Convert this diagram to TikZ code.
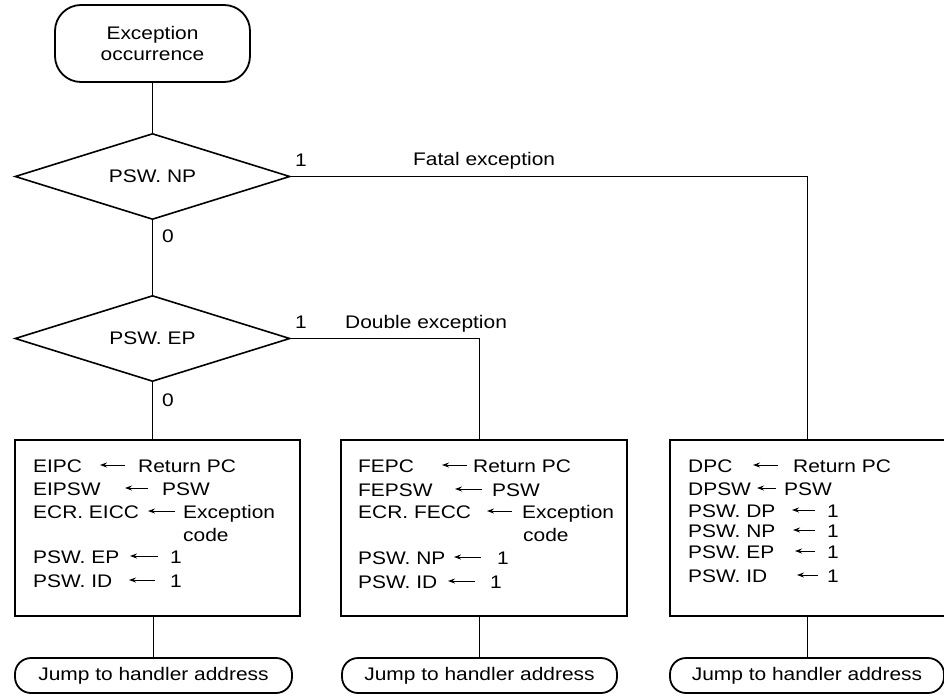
\documentclass[tikz,border=0pt]{standalone}
\usepackage{fontspec}
\setmainfont[FakeStretch=1.15]{Liberation Sans}
\usetikzlibrary{shapes.geometric,arrows.meta}
\begin{document}
\begin{tikzpicture}[x=1pt,y=-1pt,
  txt/.style={font=\fontsize{18.2}{21}\selectfont, inner sep=0pt},
  lbl/.style={txt, anchor=base west},
  bigbox/.style={draw, line width=2.6pt, inner sep=0pt},
  term/.style={txt, draw, line width=1.8pt, rounded corners=16pt, minimum height=35pt},
  dia/.style={txt, draw, shape=diamond, line width=1.6pt, aspect=3.2, minimum width=275pt, minimum height=86pt},
  conn/.style={line width=1pt},
  asg/.style={line width=1pt, -{Stealth[length=7pt,width=5pt]}}]
\useasboundingbox (0,0) rectangle (944,696);

% start
\node[txt, draw, line width=1.8pt, rounded corners=26pt, minimum width=195pt, minimum height=77pt, align=center] (start) at (152.5,43.5) {Exception\\occurrence};

% decisions
\node[dia] (d1) at (152.5,176.5) {PSW. NP};
\node[dia] (d2) at (152.5,338.5) {PSW. EP};

% boxes
\node[bigbox, minimum width=285pt, minimum height=176pt] (b1) at (157.5,528) {};
\node[bigbox, minimum width=286pt, minimum height=176pt] (b2) at (484,528) {};
\node[bigbox, minimum width=284pt, minimum height=176pt] (b3) at (812,528) {};

% terminals
\node[term, minimum width=277pt] (t1) at (153.5,675.5) {Jump to handler address};
\node[term, minimum width=275pt] (t2) at (479.5,675.5) {Jump to handler address};
\node[term, minimum width=274pt] (t3) at (807,675.5) {Jump to handler address};

% connectors
\draw[conn] (start.south) -- (d1.north);
\draw[conn] (d1.south) -- (d2.north);
\draw[conn] (d2.south) -- (d2.south |- b1.north);
\draw[conn] (d1.east) -| (t3.north |- b3.north);
\draw[conn] (d2.east) -| (t2.north |- b2.north);
\draw[conn] (t1.north |- b1.south) -- (t1.north);
\draw[conn] (t2.north |- b2.south) -- (t2.north);
\draw[conn] (t3.north |- b3.south) -- (t3.north);

% branch labels
\node[lbl] (one1) at (295,166) {1};
\node[lbl] (fatal) at (413,165) {Fatal exception};
\node[lbl] (zero1) at (162,242) {0};
\node[lbl] (one2) at (295,328) {1};
\node[lbl] (double) at (345,328) {Double exception};
\node[lbl] (zero2) at (162,406) {0};

% box 1
\node[lbl] (a11) at (33,472) {EIPC};
\node[lbl] (a12) at (138,472) {Return PC};
\draw[asg] (125,465) -- (100,465);
\node[lbl] (a21) at (33,495) {EIPSW};
\node[lbl] (a22) at (162,495) {PSW};
\draw[asg] (148,488) -- (125,488);
\node[lbl] (a31) at (33,518) {ECR. EICC};
\node[lbl] (a32) at (183,518) {Exception};
\draw[asg] (175,511) -- (148,511);
\node[lbl] (a33) at (183,541) {code};
\node[lbl] (a51) at (33,563) {PSW. EP};
\node[lbl] (a52) at (170,563) {1};
\draw[asg] (158,556) -- (130,556);
\node[lbl] (a61) at (33,587) {PSW. ID};
\node[lbl] (a62) at (170,587) {1};
\draw[asg] (155,580) -- (129,580);

% box 2
\node[lbl] (b11) at (358,472) {FEPC};
\node[lbl] (b12) at (473,472) {Return PC};
\draw[asg] (467,465) -- (442,465);
\node[lbl] (b21) at (358,496) {FEPSW};
\node[lbl] (b22) at (492,496) {PSW};
\draw[asg] (482,489) -- (455,489);
\node[lbl] (b31) at (358,518) {ECR. FECC};
\node[lbl] (b32) at (522,518) {Exception};
\draw[asg] (512,511) -- (487,511);
\node[lbl] (b33) at (523,541) {code};
\node[lbl] (b51) at (358,564) {PSW. NP};
\node[lbl] (b52) at (497,564) {1};
\draw[asg] (481,557) -- (454,557);
\node[lbl] (b61) at (358,588) {PSW. ID};
\node[lbl] (b62) at (490,588) {1};
\draw[asg] (475,581) -- (448,581);

% box 3
\node[lbl] (c11) at (688,472) {DPC};
\node[lbl] (c12) at (793,472) {Return PC};
\draw[asg] (778,465) -- (753,465);
\node[lbl] (c21) at (688,495) {DPSW};
\node[lbl] (c22) at (784,495) {PSW};
\draw[asg] (776,488) -- (757,488);
\node[lbl] (c31) at (688,517) {PSW. DP};
\node[lbl] (c32) at (827,517) {1};
\draw[asg] (815,510) -- (792,510);
\node[lbl] (c41) at (688,537) {PSW. NP};
\node[lbl] (c42) at (827,537) {1};
\draw[asg] (815,530) -- (793,530);
\node[lbl] (c51) at (688,558) {PSW. EP};
\node[lbl] (c52) at (827,558) {1};
\draw[asg] (815,551) -- (795,551);
\node[lbl] (c61) at (688,582) {PSW. ID};
\node[lbl] (c62) at (827,582) {1};
\draw[asg] (818,575) -- (797,575);
\end{tikzpicture}
\end{document}
